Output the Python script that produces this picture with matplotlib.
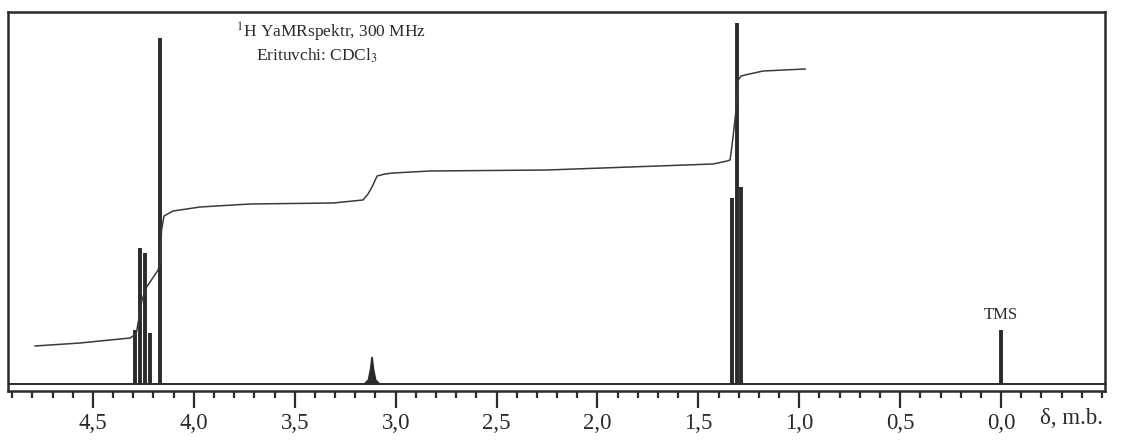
import matplotlib.pyplot as plt
import numpy as np

# peak lines (ppm, height)
line_ppm = [4.292, 4.269, 4.241, 4.216, 4.167, 1.331, 1.310, 1.289, 0.0]
line_height = [54, 136, 131, 51, 346, 186, 361, 197, 54]

# broad OH signal outline near 3.1 ppm
oh_ppm = [3.155, 3.135, 3.124, 3.117, 3.110, 3.099, 3.080]
oh_height = [0, 4, 15, 27, 15, 4, 0]

# integral curve points
int_ppm = [4.787, 4.564, 4.316, 4.286, 4.272, 4.257, 4.237, 4.227, 4.177, 4.167,
           4.160, 4.148, 4.103, 3.969, 3.722, 3.310, 3.162, 3.137, 3.117, 3.092,
           3.053, 3.013, 2.830, 2.250, 1.427, 1.358, 1.343, 1.328, 1.318, 1.308,
           1.303, 1.288, 1.269, 1.179, 0.971]
int_height = [38, 41, 46, 50, 66, 84, 96, 99, 114, 122,
              154, 168, 173, 177, 180, 181, 184, 190, 197, 208,
              210, 211, 213, 214, 220, 223, 224, 247, 266, 284,
              304, 308, 309, 313, 315]

major_ticks = [4.5, 4.0, 3.5, 3.0, 2.5, 2.0, 1.5, 1.0, 0.5, 0.0]
major_labels = ['4,5', '4,0', '3,5', '3,0', '2,5', '2,0', '1,5', '1,0', '0,5', '0,0']
minor_ticks = np.arange(-0.5, 4.95, 0.1)

ink = '#2b2b2b'
plt.rcParams['font.family'] = 'Liberation Serif'
plt.rcParams['mathtext.fontset'] = 'stix'

fig = plt.figure(figsize=(11.29, 4.45), dpi=100)
ax = fig.add_axes([8/1129, 54/445, 1097/1129, 379/445])

ax.axhline(0, color=ink, lw=1.4)
ax.vlines(line_ppm, 0, line_height, color=ink, lw=2.8)
ax.fill(oh_ppm, oh_height, color=ink, lw=1.2)
ax.plot(int_ppm, int_height, color='#3a3a3a', lw=1.1)

ax.set_xlim(4.921, -0.515)
ax.set_ylim(-7, 372)
ax.set_yticks([])
ax.set_xticks(major_ticks)
ax.set_xticklabels(major_labels)
ax.set_xticks(minor_ticks, minor=True)
ax.tick_params(axis='x', which='major', direction='out', length=12, width=1.6,
               color=ink, labelsize=16.5, labelcolor=ink, pad=4)
ax.tick_params(axis='x', which='minor', direction='out', length=5, width=1.6, color=ink)
for s in ax.spines.values():
    s.set_linewidth(1.8)
    s.set_color(ink)

ax.text(0.0, 61, 'TMS', ha='center', va='bottom', fontsize=12, color=ink)
ax.text(0.208, 0.945, r'$^{1}$H YaMRspektr, 300 MHz', transform=ax.transAxes,
        fontsize=12.5, color=ink, va='center')
ax.text(0.226, 0.885, r'Erituvchi: CDCl$_3$', transform=ax.transAxes,
        fontsize=12.5, color=ink, va='center')
fig.text(1040/1129, 27/445, 'δ, m.b.', fontsize=16.5, color=ink, va='center')

fig.savefig('out.png', dpi=100)
